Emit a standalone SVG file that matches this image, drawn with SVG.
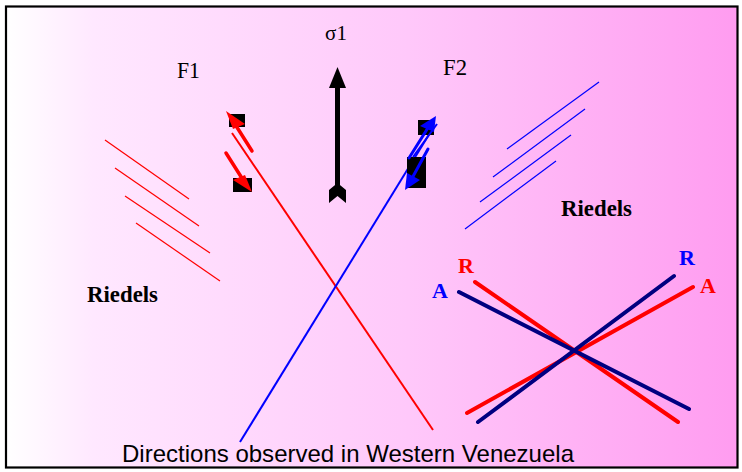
<svg xmlns="http://www.w3.org/2000/svg" width="742" height="472" viewBox="0 0 742 472">
<defs>
<linearGradient id="bg" x1="0" y1="0" x2="1" y2="0">
<stop offset="0" stop-color="#ffffff"/>
<stop offset="0.12" stop-color="#ffe8ff"/>
<stop offset="0.55" stop-color="#ffc8fa"/>
<stop offset="1" stop-color="#ff9cf0"/>
</linearGradient>
<style>
.lbl{font-family:"Liberation Serif","Times New Roman",serif;fill:#000}
.b{font-weight:bold}
.thinR{stroke:#ff0000;stroke-width:1.2;fill:none}
.thinB{stroke:#0000ff;stroke-width:1.2;fill:none}
.x{stroke-width:4;stroke-linecap:round;fill:none}
</style>
</defs>
<rect x="0" y="0" width="742" height="472" fill="#ffffff"/>
<rect x="6" y="6.5" width="731.5" height="461" fill="url(#bg)" stroke="#000" stroke-width="2.2"/>

<g id="sigma1">
<rect x="335" y="86" width="5" height="102" fill="#000"/>
<polygon points="337.5,67 329,88 346,88" fill="#000"/>
<polygon points="329,190 337.5,183 346,190 346,203 337.5,196 329,203" fill="#000"/>
<text class="lbl" x="336" y="40" font-size="21" text-anchor="middle">σ1</text>
</g>

<g id="F1">
<text class="lbl" x="177" y="78" font-size="23" textLength="23" lengthAdjust="spacingAndGlyphs">F1</text>
<line x1="232" y1="133" x2="433" y2="430" stroke="#ff0000" stroke-width="2"/>
<rect x="229" y="114" width="16" height="13" fill="#000"/>
<line x1="252" y1="151" x2="233" y2="121" stroke="#ff0000" stroke-width="3.5" stroke-linecap="round"/>
<polygon points="226,111 245,124 233,129" fill="#ff0000"/>
<rect x="233" y="178" width="19" height="14" fill="#000"/>
<line x1="226" y1="153" x2="245" y2="183" stroke="#ff0000" stroke-width="3.5" stroke-linecap="round"/>
<polygon points="252,192 233,180 245,175" fill="#ff0000"/>
</g>

<g id="F2">
<text class="lbl" x="443" y="75" font-size="23" textLength="24" lengthAdjust="spacingAndGlyphs">F2</text>
<line x1="240" y1="442" x2="433" y2="128" stroke="#0000ff" stroke-width="2"/>
<rect x="418" y="120" width="16" height="15" fill="#000"/>
<rect x="407" y="157" width="19" height="31" fill="#000"/>
<line x1="409" y1="158" x2="431" y2="123" stroke="#0000ff" stroke-width="3" stroke-linecap="round"/>
<polygon points="436,116 434,132 420,126" fill="#0000ff"/>
<line x1="413" y1="157" x2="437" y2="124" stroke="#0000ff" stroke-width="2"/>
<line x1="428" y1="149" x2="410" y2="182" stroke="#0000ff" stroke-width="3" stroke-linecap="round"/>
<polygon points="405,190 407,173 420,180" fill="#0000ff"/>
</g>

<g id="riedels-left">
<line class="thinR" x1="105" y1="140" x2="189" y2="199"/>
<line class="thinR" x1="115" y1="168" x2="199" y2="226"/>
<line class="thinR" x1="125" y1="196" x2="210" y2="253"/>
<line class="thinR" x1="136" y1="223" x2="220" y2="281"/>
<text class="lbl b" x="87" y="302" font-size="23" textLength="71" lengthAdjust="spacingAndGlyphs">Riedels</text>
</g>

<g id="riedels-right">
<line class="thinB" x1="599" y1="82" x2="507" y2="149"/>
<line class="thinB" x1="585" y1="109" x2="493" y2="177"/>
<line class="thinB" x1="571" y1="135" x2="480" y2="202"/>
<line class="thinB" x1="556" y1="161" x2="465" y2="229"/>
<text class="lbl b" x="561" y="216" font-size="23" textLength="71" lengthAdjust="spacingAndGlyphs">Riedels</text>
</g>

<g id="RA-cross">
<line class="x" x1="475" y1="282" x2="678" y2="422" stroke="#ff0000"/>
<line class="x" x1="693" y1="287" x2="467" y2="413" stroke="#ff0000"/>
<line class="x" x1="459" y1="292" x2="689" y2="409" stroke="#000080"/>
<line class="x" x1="674" y1="276" x2="478" y2="422" stroke="#000080"/>
<text class="lbl b" x="458" y="273" font-size="22" fill="#ff0000" style="fill:#ff0000">R</text>
<text class="lbl b" x="432" y="298" font-size="22" style="fill:#0000ff">A</text>
<text class="lbl b" x="679" y="265" font-size="22" style="fill:#0000ff">R</text>
<text class="lbl b" x="700" y="293" font-size="22" style="fill:#ff0000">A</text>
</g>

<text x="122" y="462" font-family="Liberation Sans, Arial, sans-serif" font-size="24" textLength="452" lengthAdjust="spacingAndGlyphs" fill="#000">Directions observed in Western Venezuela</text>
</svg>
